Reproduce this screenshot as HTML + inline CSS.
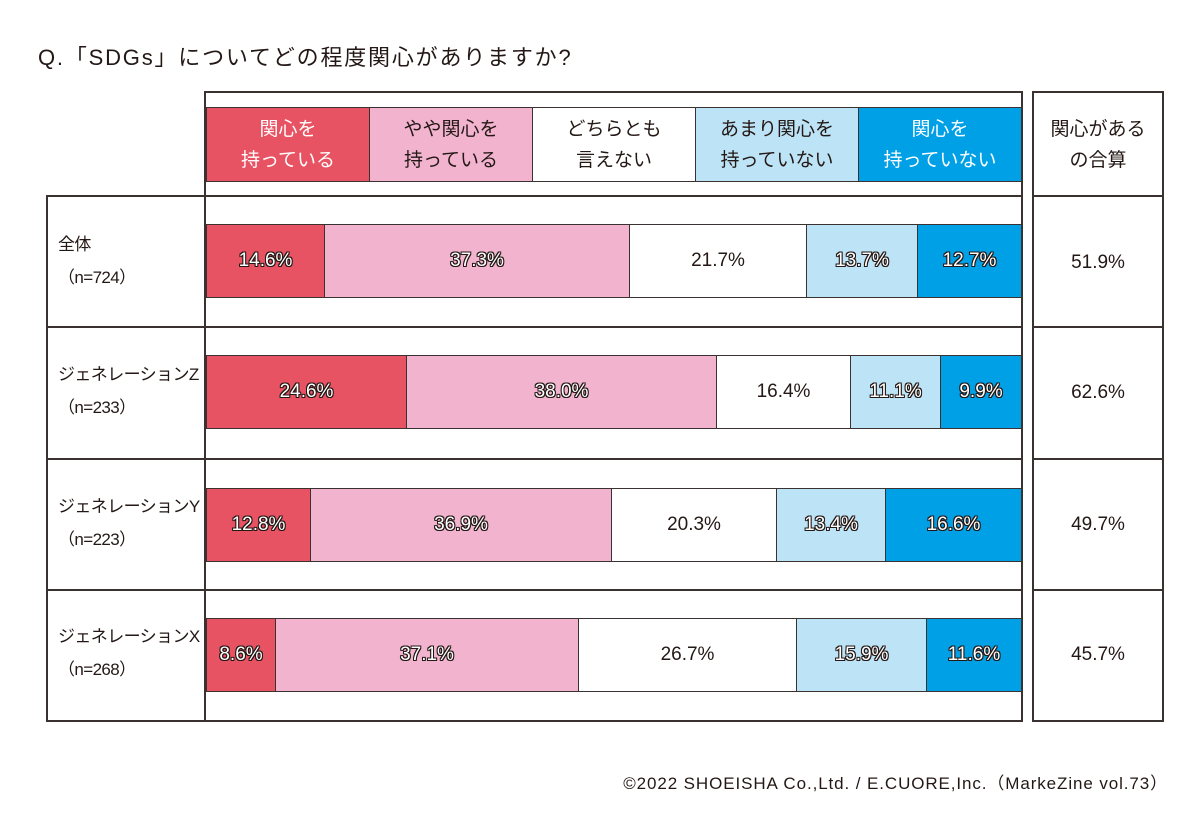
<!DOCTYPE html>
<html><head><meta charset="utf-8"><style>
body{margin:0;width:1200px;height:827px;background:#fff;position:relative;font-family:"Liberation Sans","Noto Sans CJK JP",sans-serif;color:#231815;overflow:hidden}
div{position:absolute;box-sizing:border-box}
.t{left:38px;top:40px;font-size:22px;letter-spacing:1.8px;white-space:nowrap}
.box{border:2px solid #3a3230}
.h{top:107px;height:75px;border:1.5px solid #3a3230;display:flex;align-items:center;justify-content:center;text-align:center;font-size:19px;line-height:31px}
.b{height:74px;border:1.5px solid #3a3230;display:flex;align-items:center;justify-content:center;font-size:19px}
.o{color:#fff;text-shadow:-1px -1px 0 #231815,1px -1px 0 #231815,-1px 1px 0 #231815,1px 1px 0 #231815,0 1px 0 #231815,0 -1px 0 #231815,1px 0 0 #231815,-1px 0 0 #231815}
.r{background:#e85363}.p{background:#f2b3cf}.w{background:#fff}.l{background:#bde3f6}.u{background:#00a0e6}
.lab{left:58px;font-size:17px;line-height:33px;letter-spacing:-0.6px;white-space:nowrap}
.hl{height:2px;background:#3a3230}
.s{left:1033px;width:130px;display:flex;align-items:center;justify-content:center;font-size:19px}
</style></head><body>
<div class="t">Q.「SDGs」についてどの程度関心がありますか?</div>
<div class="box" style="left:204px;top:91px;width:819px;height:631px"></div>
<div class="box" style="left:46px;top:195px;width:160px;height:527px"></div>
<div class="box" style="left:1032px;top:91px;width:132px;height:631px"></div>
<div class="hl" style="left:204px;top:195px;width:819px"></div>
<div class="hl" style="left:46px;top:326px;width:977px"></div>
<div class="hl" style="left:46px;top:458px;width:977px"></div>
<div class="hl" style="left:46px;top:589px;width:977px"></div>
<div class="hl" style="left:1032px;top:195px;width:132px"></div>
<div class="hl" style="left:1032px;top:326px;width:132px"></div>
<div class="hl" style="left:1032px;top:458px;width:132px"></div>
<div class="hl" style="left:1032px;top:589px;width:132px"></div>

<div class="h r" style="left:206px;width:164px;color:#fff">関心を<br>持っている</div>
<div class="h p" style="left:369px;width:164px">やや関心を<br>持っている</div>
<div class="h w" style="left:532px;width:164px">どちらとも<br>言えない</div>
<div class="h l" style="left:695px;width:164px">あまり関心を<br>持っていない</div>
<div class="h u" style="left:858px;width:164px;color:#fff">関心を<br>持っていない</div>
<div class="s" style="top:107px;height:75px;line-height:31px;text-align:center">関心がある<br>の合算</div>

<div class="lab" style="top:228px">全体<br>（n=724）</div>
<div class="lab" style="top:358px">ジェネレーションZ<br>（n=233）</div>
<div class="lab" style="top:490px">ジェネレーションY<br>（n=223）</div>
<div class="lab" style="top:620px">ジェネレーションX<br>（n=268）</div>

<div class="b r o" style="top:224px;left:206px;width:119px">14.6%</div>
<div class="b p o" style="top:224px;left:324px;width:306px">37.3%</div>
<div class="b w" style="top:224px;left:629px;width:178px">21.7%</div>
<div class="b l o" style="top:224px;left:806px;width:112px">13.7%</div>
<div class="b u o" style="top:224px;left:917px;width:105px">12.7%</div>

<div class="b r o" style="top:355px;left:206px;width:201px">24.6%</div>
<div class="b p o" style="top:355px;left:406px;width:311px">38.0%</div>
<div class="b w" style="top:355px;left:716px;width:135px">16.4%</div>
<div class="b l o" style="top:355px;left:850px;width:91px">11.1%</div>
<div class="b u o" style="top:355px;left:940px;width:82px">9.9%</div>

<div class="b r o" style="top:488px;left:206px;width:105px">12.8%</div>
<div class="b p o" style="top:488px;left:310px;width:302px">36.9%</div>
<div class="b w" style="top:488px;left:611px;width:166px">20.3%</div>
<div class="b l o" style="top:488px;left:776px;width:110px">13.4%</div>
<div class="b u o" style="top:488px;left:885px;width:137px">16.6%</div>

<div class="b r o" style="top:618px;left:206px;width:70px">8.6%</div>
<div class="b p o" style="top:618px;left:275px;width:304px">37.1%</div>
<div class="b w" style="top:618px;left:578px;width:219px">26.7%</div>
<div class="b l o" style="top:618px;left:796px;width:131px">15.9%</div>
<div class="b u o" style="top:618px;left:926px;width:96px">11.6%</div>

<div class="s" style="top:226px;height:74px">51.9%</div>
<div class="s" style="top:356px;height:74px">62.6%</div>
<div class="s" style="top:488px;height:74px">49.7%</div>
<div class="s" style="top:618px;height:74px">45.7%</div>

<div style="right:32px;top:769px;font-size:17px;letter-spacing:0.9px;white-space:nowrap">©2022 SHOEISHA Co.,Ltd. / E.CUORE,Inc.（MarkeZine vol.73）</div>
</body></html>
